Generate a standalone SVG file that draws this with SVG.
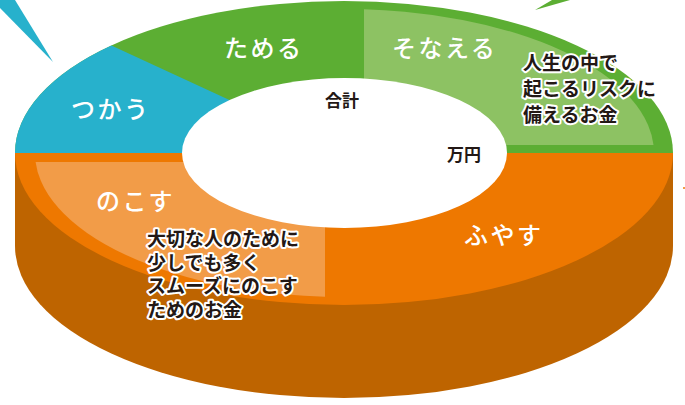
<svg xmlns="http://www.w3.org/2000/svg" width="685" height="405" viewBox="0 0 685 405">
<style>
.lbl{font-family:"Noto Sans CJK JP","Noto Sans",sans-serif;font-size:24px;font-weight:500;fill:#fff;letter-spacing:2.5px}
.note{font-family:"Noto Sans CJK JP","Noto Sans",sans-serif;font-size:19px;font-weight:700;fill:#231815;stroke:#fff;stroke-width:4;stroke-linejoin:round;paint-order:stroke}
.tot{font-family:"Noto Sans CJK JP","Noto Sans",sans-serif;font-size:17px;font-weight:700;fill:#231815}
</style>
<defs>
<clipPath id="cg"><rect x="364" y="0" width="330" height="145"/></clipPath>
<clipPath id="co"><rect x="0" y="162" width="325" height="240"/></clipPath>
</defs>
<rect width="685" height="405" fill="#fff"/>
<g id="pointers">
<polygon points="0,0 15,0 53,62 0,8" fill="#27B1CC"/>
<polygon points="535,10 552,0 570,0" fill="#5CAE33"/>
<rect x="683" y="187" width="2" height="2" fill="#F29C48"/>
</g>
<g id="side">
<path d="M15,153 L673,153 L673,246 A329,152 0 0 1 15,246 Z" fill="#BE6400"/>
</g>
<g id="fuyasu">
<path d="M15,153 A329,152 0 0 0 673,153 Z" fill="#EE7800"/>
<text class="lbl" x="464" y="244">ふやす</text>
</g>
<g id="tameru">
<path d="M15,153 A329,152 0 0 1 673,153 Z" fill="#5CAE33"/>
<text class="lbl" x="224" y="57">ためる</text>
</g>
<g id="tsukau">
<path d="M344,153 L15,153 A329,152 0 0 1 111.4,45.5 Z" fill="#27B1CC"/>
<text class="lbl" x="71" y="118">つかう</text>
</g>
<g id="sonaeru">
<ellipse cx="344" cy="153" rx="310" ry="144" fill="#8DC263" clip-path="url(#cg)"/>
</g>
<g id="nokosu">
<ellipse cx="344" cy="153" rx="309" ry="144" fill="#F29C48" clip-path="url(#co)"/>
</g>
<g id="total">
<ellipse cx="344.5" cy="153" rx="162.5" ry="75" fill="#fff"/>
<text class="tot" x="325" y="107">合計</text>
<text class="tot" x="447" y="161">万円</text>
</g>
<g id="sonaeru-text">
<text class="lbl" x="392" y="57">そなえる</text>
<text class="note" x="523" y="70">人生の中で</text>
<text class="note" x="523" y="96">起こるリスクに</text>
<text class="note" x="523" y="122">備えるお金</text>
</g>
<g id="nokosu-text">
<text class="lbl" x="96" y="210">のこす</text>
<text class="note" x="147" y="246">大切な人のために</text>
<text class="note" x="147" y="270">少しでも多く</text>
<text class="note" x="147" y="293">スムーズにのこす</text>
<text class="note" x="147" y="317">ためのお金</text>
</g>
</svg>
